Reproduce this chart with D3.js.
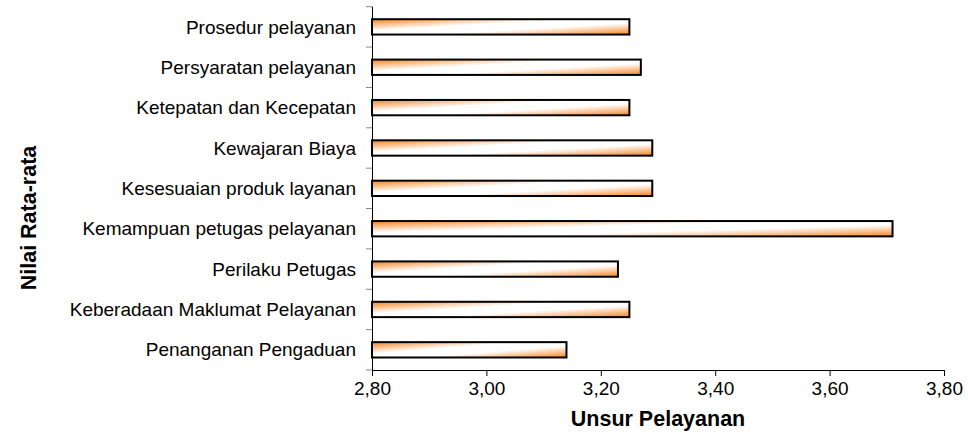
<!DOCTYPE html>
<html><head><meta charset="utf-8">
<script src="https://cdn.jsdelivr.net/npm/d3@7"></script>
<style>body{margin:0;background:#fff}svg{display:block}text{font-family:"Liberation Sans",Arial,sans-serif}</style>
</head><body><svg id="c" width="968" height="433"></svg>
<script>
const categories = ["Prosedur pelayanan","Persyaratan pelayanan","Ketepatan dan Kecepatan","Kewajaran Biaya","Kesesuaian produk layanan","Kemampuan petugas pelayanan","Perilaku Petugas","Keberadaan Maklumat Pelayanan","Penanganan Pengaduan"];
const values = [3.25,3.27,3.25,3.29,3.29,3.71,3.23,3.25,3.14];
const xTicks = [2.8,3.0,3.2,3.4,3.6,3.8];
const xTitle = "Unsur Pelayanan";
const yTitle = "Nilai Rata-rata";

(function(){
const svg = d3.select("#c");
const pL = 372, pR = 944, pT = 6.7, pB = 370;
const x = d3.scaleLinear().domain([2.8,3.8]).range([pL,pR]);
const y = d3.scaleBand().domain(categories).range([pT,pB]).paddingInner(0.62).paddingOuter(0.31);

const defs = svg.append("defs");
const g = defs.append("linearGradient").attr("id","grad").attr("x1",0).attr("y1",0).attr("x2",1).attr("y2",1);
g.append("stop").attr("offset",0).attr("stop-color","#f5831f");
g.append("stop").attr("offset",0.38).attr("stop-color","#fff");
g.append("stop").attr("offset",0.62).attr("stop-color","#fff");
g.append("stop").attr("offset",1).attr("stop-color","#f5831f");

const yTickPos = d3.range(categories.length+1).map(i => pT + i*(pB-pT)/categories.length);
svg.append("g").selectAll("line").data(yTickPos).join("line")
  .attr("x1",pL-6).attr("x2",pL).attr("y1",d=>d).attr("y2",d=>d)
  .attr("stroke","#888").attr("stroke-width",1);

svg.append("g").selectAll("rect").data(categories).join("rect")
  .attr("x",x(2.8)).attr("y",d=>y(d)).attr("width",(d,i)=>x(values[i])-x(2.8)).attr("height",y.bandwidth())
  .attr("fill","url(#grad)").attr("stroke","#000").attr("stroke-width",2);

svg.append("line").attr("x1",pL+0.5).attr("x2",pL+0.5).attr("y1",pT).attr("y2",pB).attr("stroke","#000");
const xa = d3.axisBottom(x).tickValues(xTicks).tickSize(6).tickSizeOuter(0).tickFormat(d=>d3.format(".2f")(d).replace(".",","));
const xg = svg.append("g").attr("transform",`translate(0,${pB})`).call(xa);
xg.select(".domain").attr("stroke","#000");
xg.selectAll(".tick line").attr("stroke","#000");
xg.selectAll("text").attr("font-size",19).attr("fill","#000").attr("y",12).attr("dy","0.71em").attr("font-family","Liberation Sans, Arial, sans-serif");

svg.append("g").selectAll("text").data(categories).join("text")
  .attr("x",pL-16).attr("y",d=>y(d)+y.bandwidth()/2).attr("dy","0.35em")
  .attr("text-anchor","end").attr("font-size",19).attr("fill","#000").text(d=>d);

svg.append("text").attr("x",(pL+pR)/2).attr("y",426).attr("text-anchor","middle")
  .attr("font-size",21.5).attr("font-weight","bold").text(xTitle);
svg.append("text").attr("transform",`translate(36,218) rotate(-90)`).attr("text-anchor","middle")
  .attr("font-size",21.5).attr("font-weight","bold").text(yTitle);
})();
</script></body></html>
